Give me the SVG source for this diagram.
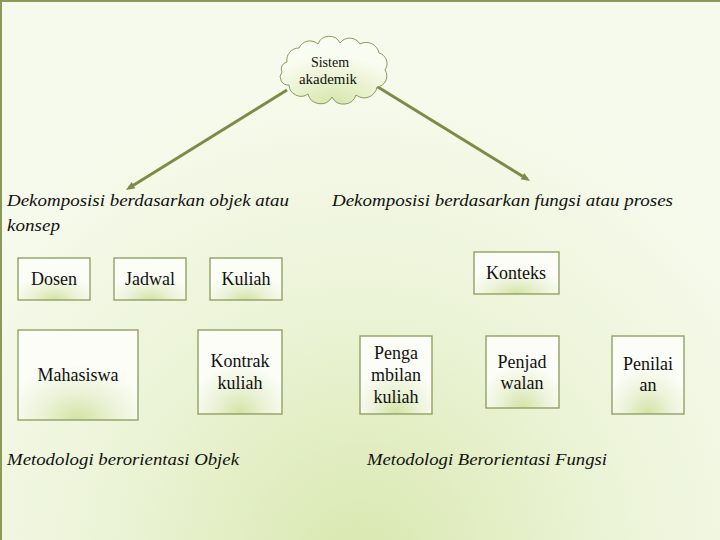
<svg xmlns="http://www.w3.org/2000/svg" width="720" height="540" viewBox="0 0 720 540">
<defs>
<radialGradient id="bg" cx="360" cy="560" r="480" gradientUnits="userSpaceOnUse">
<stop offset="0" stop-color="#d9e8b0"/>
<stop offset="0.55" stop-color="#ecf4d8"/>
<stop offset="1" stop-color="#f6faec"/>
</radialGradient>
<radialGradient id="glow" cx="0.5" cy="1" r="0.6" fx="0.5" fy="1">
<stop offset="0" stop-color="#d3e3a4"/>
<stop offset="0.5" stop-color="#eaf2d6"/>
<stop offset="1" stop-color="#fbfdf6"/>
</radialGradient>
<radialGradient id="cglow" cx="0.5" cy="1" r="0.7" fx="0.5" fy="1">
<stop offset="0" stop-color="#d6e6aa"/>
<stop offset="1" stop-color="#f9fcf0"/>
</radialGradient>
<marker id="arr" viewBox="0 0 10 10" refX="6" refY="5" markerWidth="3" markerHeight="3" orient="auto" markerUnits="strokeWidth">
<path d="M0,1 L10,5 L0,9 z" fill="#7d8b47"/>
</marker>
<style>
.box{fill:url(#glow);stroke:#8a9a5b;stroke-width:1.3}
text{font-family:'Liberation Serif','Times New Roman','DejaVu Serif',serif;fill:#111}
.t{font-size:18px;text-anchor:middle}
.h{font-style:italic;font-size:17.5px}
.c{font-size:14px;text-anchor:middle}
.ln{stroke:#7d8b47;stroke-width:3;fill:none;marker-end:url(#arr)}
</style>
</defs>
<rect x="0" y="0" width="720" height="540" fill="url(#bg)"/>
<path d="M1,540 L1,1 L720,1" fill="none" stroke="#8a9a5b" stroke-width="2"/>

<g id="connectors">
<line class="ln" x1="287" y1="90" x2="129" y2="188"/>
<line class="ln" x1="373" y1="84" x2="527" y2="179"/>
</g>

<g id="sistem-akademik">
<path d="M287,62 A12,12 0 0 1 299,48 A12,12 0 0 1 318,44 A12,12 0 0 1 340,43 A12,12 0 0 1 360,44 A13,13 0 0 1 379,53 A11,11 0 0 1 385,70 A11,11 0 0 1 377,87 A13,13 0 0 1 356,95 A13,13 0 0 1 332,97 A13,13 0 0 1 308,94 A12,12 0 0 1 289,85 A8,8 0 0 1 282,72 A7,7 0 0 1 287,62 z" fill="url(#cglow)" stroke="#8a9a5b" stroke-width="1"/>
<text class="c" x="330" y="67">Sistem</text>
<text class="c" x="328" y="84" textLength="58" lengthAdjust="spacingAndGlyphs">akademik</text>
</g>

<g id="label-objek">
<text class="h" x="7" y="206" textLength="282" lengthAdjust="spacingAndGlyphs">Dekomposisi berdasarkan objek atau</text>
<text class="h" x="7" y="231" textLength="53" lengthAdjust="spacingAndGlyphs">konsep</text>
</g>
<g id="label-fungsi">
<text class="h" x="332" y="206" textLength="341" lengthAdjust="spacingAndGlyphs">Dekomposisi berdasarkan fungsi atau proses</text>
</g>

<g id="dosen"><rect class="box" x="18" y="258" width="72" height="42"/><text class="t" x="54" y="285">Dosen</text></g>
<g id="jadwal"><rect class="box" x="114" y="258" width="72" height="42"/><text class="t" x="150" y="285">Jadwal</text></g>
<g id="kuliah"><rect class="box" x="210" y="258" width="72" height="42"/><text class="t" x="246" y="285">Kuliah</text></g>
<g id="mahasiswa"><rect class="box" x="18" y="330" width="120" height="90"/><text class="t" x="78" y="381">Mahasiswa</text></g>
<g id="kontrak-kuliah"><rect class="box" x="198" y="330" width="84" height="84"/><text class="t" x="240" y="367">Kontrak</text><text class="t" x="240" y="389">kuliah</text></g>

<g id="konteks"><rect class="box" x="474" y="252" width="85" height="42"/><text class="t" x="516" y="279">Konteks</text></g>
<g id="pengambilan"><rect class="box" x="360" y="336" width="72" height="78"/><text class="t" x="396" y="359">Penga</text><text class="t" x="396" y="381">mbilan</text><text class="t" x="396" y="403">kuliah</text></g>
<g id="penjadwalan"><rect class="box" x="486" y="336" width="73" height="72"/><text class="t" x="522" y="368">Penjad</text><text class="t" x="522" y="389">walan</text></g>
<g id="penilaian"><rect class="box" x="612" y="336" width="72" height="78"/><text class="t" x="648" y="370">Penilai</text><text class="t" x="648" y="391">an</text></g>

<g id="label-metodologi-objek"><text class="h" x="7" y="465" textLength="232" lengthAdjust="spacingAndGlyphs">Metodologi berorientasi Objek</text></g>
<g id="label-metodologi-fungsi"><text class="h" x="367" y="465" textLength="240" lengthAdjust="spacingAndGlyphs">Metodologi Berorientasi Fungsi</text></g>
</svg>
